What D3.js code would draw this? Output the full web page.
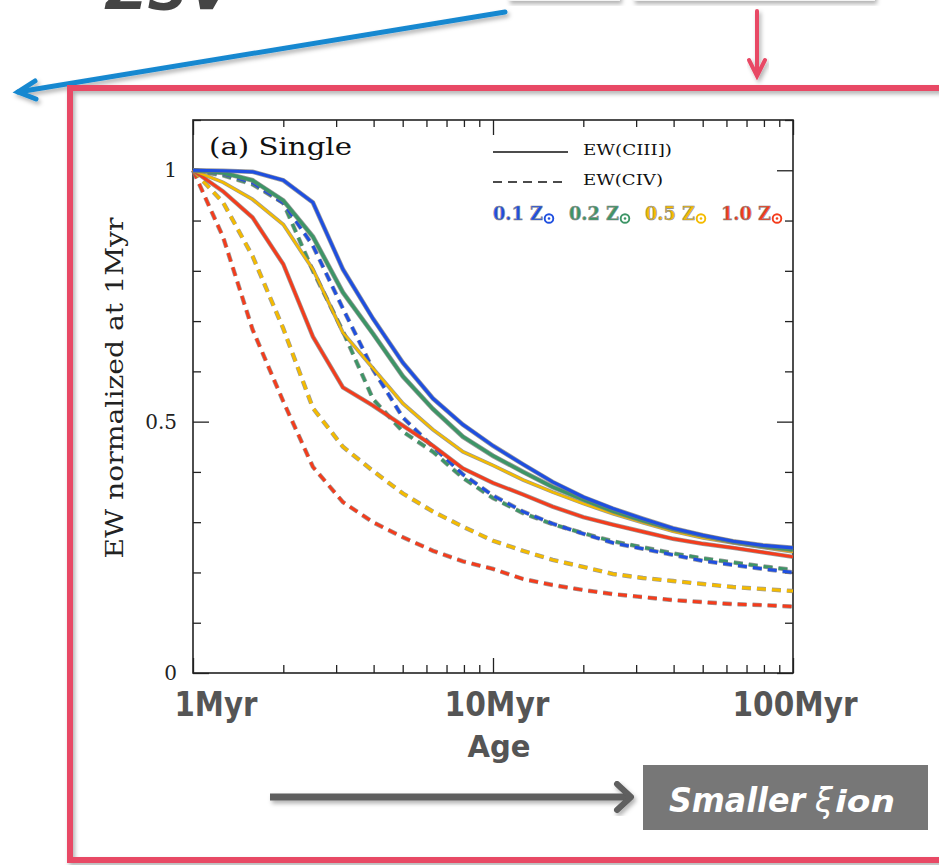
<!DOCTYPE html>
<html>
<head>
<meta charset="utf-8">
<script src="https://cdn.jsdelivr.net/npm/d3@7"></script>
<style>
body { margin: 0; background: #fff; }
svg { display: block; }
</style>
</head>
<body>
<script>
// ages of the model outputs (Myr)
var ages = [1, 1.26, 1.58, 2.0, 2.51, 3.16, 3.98, 5.01, 6.31, 7.94, 10, 12.6, 15.8, 20.0, 25.1, 31.6, 39.8, 50.1, 63.1, 79.4, 100];

// EW(CIII]) normalized at 1Myr
var ciii01 = [1.0, 0.999, 0.997, 0.98, 0.936, 0.803, 0.705, 0.617, 0.546, 0.494, 0.452, 0.415, 0.38, 0.35, 0.327, 0.307, 0.288, 0.274, 0.262, 0.254, 0.249];
var ciii02 = [1.0, 0.995, 0.98, 0.94, 0.868, 0.757, 0.675, 0.59, 0.525, 0.47, 0.432, 0.4, 0.37, 0.345, 0.322, 0.303, 0.286, 0.273, 0.261, 0.252, 0.245];
var ciii05 = [1.0, 0.976, 0.942, 0.892, 0.803, 0.677, 0.606, 0.536, 0.484, 0.44, 0.413, 0.384, 0.36, 0.337, 0.317, 0.299, 0.282, 0.269, 0.259, 0.25, 0.241];
var ciii10 = [1.0, 0.958, 0.906, 0.813, 0.669, 0.568, 0.532, 0.492, 0.452, 0.407, 0.378, 0.355, 0.331, 0.31, 0.295, 0.281, 0.267, 0.257, 0.249, 0.24, 0.231];

// EW(CIV) normalized at 1Myr
var civ01 = [1.0, 0.993, 0.975, 0.935, 0.85, 0.725, 0.604, 0.508, 0.45, 0.395, 0.353, 0.321, 0.297, 0.277, 0.259, 0.247, 0.235, 0.223, 0.215, 0.207, 0.2];
var civ02 = [1.0, 0.99, 0.972, 0.935, 0.80, 0.68, 0.545, 0.48, 0.44, 0.388, 0.348, 0.318, 0.296, 0.278, 0.262, 0.25, 0.238, 0.228, 0.22, 0.212, 0.205];
var civ05 = [1.0, 0.936, 0.829, 0.685, 0.527, 0.45, 0.402, 0.357, 0.321, 0.291, 0.263, 0.243, 0.225, 0.211, 0.197, 0.189, 0.183, 0.177, 0.171, 0.167, 0.163];
var civ10 = [1.0, 0.867, 0.683, 0.54, 0.41, 0.34, 0.30, 0.27, 0.243, 0.222, 0.207, 0.187, 0.175, 0.165, 0.157, 0.151, 0.145, 0.141, 0.137, 0.135, 0.132];

var metals = ["0.1", "0.2", "0.5", "1.0"];
var colors = ["#1f4fe0", "#3d9566", "#f4bb00", "#f43c1c"];
var lineNames = ["EW(CIII])", "EW(CIV)"];
var yTicks = [0, 0.5, 1];
var xTicks = [1, 10, 100];
var xTickLabels = ["1Myr", "10Myr", "100Myr"];

var W = 939, H = 865;
var svg = d3.select("body").append("svg")
    .attr("width", W)
    .attr("height", H);

var defs = svg.append("defs");
var sh = defs.append("filter").attr("id", "shadow")
    .attr("x", "-10%").attr("y", "-10%").attr("width", "130%").attr("height", "130%");
sh.append("feDropShadow").attr("dx", 2).attr("dy", 3).attr("stdDeviation", 2)
    .attr("flood-color", "#000").attr("flood-opacity", 0.3);

// ---- slide decorations ----
// title of the slide above, only its bottom edge is in view
svg.append("text")
    .attr("x", 106).attr("y", 9)
    .attr("font-family", "DejaVu Sans").attr("font-weight", "bold").attr("font-style", "italic")
    .attr("font-size", 56).attr("fill", "#444")
    .attr("textLength", 126).attr("lengthAdjust", "spacing")
    .text("ZSV");

svg.append("rect").attr("x", 508).attr("y", -20).attr("width", 112).attr("height", 21)
    .attr("fill", "#f4f4f4").attr("filter", "url(#shadow)");
svg.append("rect").attr("x", 633).attr("y", -20).attr("width", 242).attr("height", 21)
    .attr("fill", "#f4f4f4").attr("filter", "url(#shadow)");

// blue arrow
var blueArrow = svg.append("g").attr("filter", "url(#shadow)")
    .attr("stroke", "#1888d0").attr("stroke-width", 5).attr("fill", "none").attr("stroke-linecap", "round");
blueArrow.append("line").attr("x1", 505).attr("y1", 12).attr("x2", 18).attr("y2", 92);
blueArrow.append("polyline").attr("points", "35,81 18,92 36,99");

// pink arrow
var pinkArrow = svg.append("g").attr("filter", "url(#shadow)")
    .attr("stroke", "#e84865").attr("stroke-width", 4).attr("fill", "none").attr("stroke-linecap", "round");
pinkArrow.append("line").attr("x1", 757).attr("y1", 11).attr("x2", 757).attr("y2", 74);
pinkArrow.append("polyline").attr("points", "749,60 757,76 765,60");

// pink frame
svg.append("rect")
    .attr("x", 70).attr("y", 88).attr("width", 900).attr("height", 772)
    .attr("fill", "none").attr("stroke", "#e84865").attr("stroke-width", 6)
    .attr("filter", "url(#shadow)");

// ---- chart ----
var x = d3.scaleLog().domain([1, 100]).range([193, 793]);
var y = d3.scaleLinear().domain([0, 1.1]).range([673, 120]);

var minorX = [2, 3, 4, 5, 6, 7, 8, 9, 20, 30, 40, 50, 60, 70, 80, 90];
var minorY = [0.1, 0.2, 0.3, 0.4, 0.6, 0.7, 0.8, 0.9, 1.1];

function tickAxis(axis, size, vals, tx, ty) {
    var g = svg.append("g")
        .attr("transform", "translate(" + tx + "," + ty + ")")
        .call(axis.tickValues(vals).tickSize(-size).tickFormat(""));
    g.select(".domain").remove();
    g.selectAll("line").attr("stroke", "#222").attr("stroke-width", 1.3);
}
tickAxis(d3.axisBottom(x), 15, xTicks, 0, 673);
tickAxis(d3.axisBottom(x), 8, minorX, 0, 673);
tickAxis(d3.axisTop(x), 15, xTicks, 0, 120);
tickAxis(d3.axisTop(x), 7, minorX, 0, 120);
tickAxis(d3.axisLeft(y), 16, yTicks, 193, 0);
tickAxis(d3.axisLeft(y), 8, minorY, 193, 0);
tickAxis(d3.axisRight(y), 16, yTicks, 793, 0);
tickAxis(d3.axisRight(y), 8, minorY, 793, 0);

svg.append("rect")
    .attr("x", 193).attr("y", 120).attr("width", 600).attr("height", 553)
    .attr("fill", "none").attr("stroke", "#222").attr("stroke-width", 1.6);

// curves
var line = d3.line()
    .x(function(d, i) { return x(ages[i]); })
    .y(function(d) { return y(d); });

var series = [
    {v: civ10, c: 3, dash: true},
    {v: civ05, c: 2, dash: true},
    {v: civ02, c: 1, dash: true},
    {v: civ01, c: 0, dash: true},
    {v: ciii10, c: 3, dash: false},
    {v: ciii05, c: 2, dash: false},
    {v: ciii02, c: 1, dash: false},
    {v: ciii01, c: 0, dash: false}
];
var widths = [3.2, 3.4, 2.4, 3.0];

var curves = svg.append("g");
series.forEach(function(s) {
    var w = s.dash ? 3 : widths[s.c];
    curves.append("path")
        .attr("d", line(s.v))
        .attr("fill", "none")
        .attr("stroke", "#7a7a7a")
        .attr("stroke-opacity", 0.75)
        .attr("stroke-width", w + 1.4)
        .attr("stroke-dasharray", s.dash ? "9,6" : null);
    curves.append("path")
        .attr("d", line(s.v))
        .attr("fill", "none")
        .attr("stroke", colors[s.c])
        .attr("stroke-width", w)
        .attr("stroke-dasharray", s.dash ? "9,6" : null);
});

// y tick labels
svg.selectAll("text.ytl")
    .data(yTicks)
    .enter()
    .append("text")
    .attr("class", "ytl")
    .attr("x", 177)
    .attr("y", function(d) { return y(d) + 7; })
    .attr("text-anchor", "end")
    .attr("font-family", "DejaVu Serif")
    .attr("font-size", 20)
    .attr("fill", "#222")
    .text(function(d) { return d === 0.5 ? "0.5" : d; });

// y title
svg.append("text")
    .attr("transform", "translate(123,388) rotate(-90)")
    .attr("text-anchor", "middle")
    .attr("font-family", "DejaVu Serif")
    .attr("font-size", 24)
    .attr("fill", "#222")
    .attr("textLength", 341)
    .attr("lengthAdjust", "spacingAndGlyphs")
    .text("EW normalized at 1Myr");

// panel label
svg.append("text")
    .attr("x", 209).attr("y", 155)
    .attr("font-family", "DejaVu Serif")
    .attr("font-size", 24)
    .attr("fill", "#111")
    .attr("textLength", 143)
    .attr("lengthAdjust", "spacingAndGlyphs")
    .text("(a) Single");

// legend: line styles
var legend = svg.append("g");
lineNames.forEach(function(name, i) {
    var ly = 152 + i * 30;
    legend.append("line")
        .attr("x1", 493).attr("x2", 568)
        .attr("y1", ly).attr("y2", ly)
        .attr("stroke", "#111").attr("stroke-width", 1.4)
        .attr("stroke-dasharray", i === 1 ? "9,6" : null);
    legend.append("text")
        .attr("x", 583).attr("y", ly + 3)
        .attr("font-family", "DejaVu Serif")
        .attr("font-size", 15)
        .attr("fill", "#111")
        .attr("textLength", i === 0 ? 89 : 80)
        .attr("lengthAdjust", "spacingAndGlyphs")
        .text(name);
});

// legend: metallicities
metals.forEach(function(m, i) {
    var lx = 493 + i * 76;
    legend.append("text")
        .attr("x", lx).attr("y", 220)
        .attr("font-family", "DejaVu Serif")
        .attr("font-weight", "bold")
        .attr("font-size", 18)
        .attr("fill", colors[i])
        .attr("stroke", "#8a8a8a").attr("stroke-width", 0.6)
        .attr("textLength", 50)
        .attr("lengthAdjust", "spacingAndGlyphs")
        .text(m + " Z");
    legend.append("circle")
        .attr("cx", lx + 56).attr("cy", 218.5)
        .attr("r", 4.3)
        .attr("fill", "none")
        .attr("stroke", colors[i]).attr("stroke-width", 1.9);
    legend.append("circle")
        .attr("cx", lx + 56).attr("cy", 218.5)
        .attr("r", 1.3)
        .attr("fill", colors[i]);
});

// x tick labels (slide text)
var xLabelShift = [23, 4, 2];
var xLabelLen = [83, 105, 125];
svg.selectAll("text.xtl")
    .data(xTicks)
    .enter()
    .append("text")
    .attr("class", "xtl")
    .attr("x", function(d, i) { return x(d) + xLabelShift[i]; })
    .attr("y", 716)
    .attr("text-anchor", "middle")
    .attr("font-family", "DejaVu Sans")
    .attr("font-weight", "bold")
    .attr("font-size", 33)
    .attr("fill", "#555")
    .attr("textLength", function(d, i) { return xLabelLen[i]; })
    .attr("lengthAdjust", "spacingAndGlyphs")
    .text(function(d, i) { return xTickLabels[i]; });

svg.append("text")
    .attr("x", 499).attr("y", 757)
    .attr("text-anchor", "middle")
    .attr("font-family", "DejaVu Sans")
    .attr("font-weight", "bold")
    .attr("font-size", 31)
    .attr("fill", "#555")
    .attr("textLength", 63)
    .attr("lengthAdjust", "spacingAndGlyphs")
    .text("Age");

// gray arrow + box
var grayArrow = svg.append("g").attr("filter", "url(#shadow)")
    .attr("stroke", "#5e5e5e").attr("stroke-width", 7).attr("fill", "none");
grayArrow.append("line").attr("x1", 270).attr("y1", 797).attr("x2", 628).attr("y2", 797);
grayArrow.append("polyline").attr("points", "617,784 631,797 617,810")
    .attr("stroke-linecap", "round").attr("stroke-linejoin", "round").attr("stroke-width", 6);

svg.append("rect")
    .attr("x", 643).attr("y", 765).attr("width", 285).attr("height", 65)
    .attr("fill", "#777");

var tagFont = {family: "DejaVu Sans", style: "italic", weight: "bold"};
[["Smaller", 669, 136, 33], ["ξ", 815, 18, 34], ["ion", 835, 60, 30]].forEach(function(p) {
    svg.append("text")
        .attr("x", p[1]).attr("y", 812)
        .attr("font-family", tagFont.family)
        .attr("font-style", tagFont.style)
        .attr("font-weight", p[0] === "ξ" ? "normal" : tagFont.weight)
        .attr("font-size", p[3])
        .attr("fill", "#fff")
        .attr("textLength", p[2])
        .attr("lengthAdjust", "spacingAndGlyphs")
        .text(p[0]);
});
</script>
</body>
</html>
